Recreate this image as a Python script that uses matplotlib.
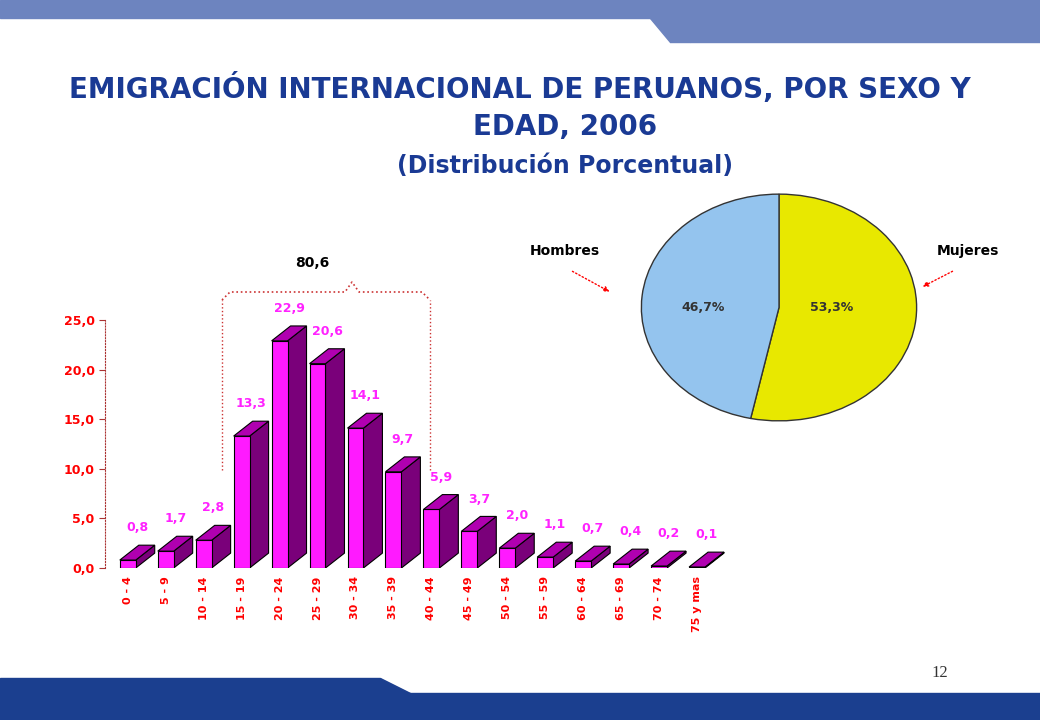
import matplotlib
matplotlib.use("Agg")
import matplotlib.pyplot as plt
from matplotlib.patches import Polygon, Rectangle

categories = ["0 - 4","5 - 9","10 - 14","15 - 19","20 - 24","25 - 29","30 - 34","35 - 39",
              "40 - 44","45 - 49","50 - 54","55 - 59","60 - 64","65 - 69","70 - 74","75 y mas"]
values = [0.8,1.7,2.8,13.3,22.9,20.6,14.1,9.7,5.9,3.7,2.0,1.1,0.7,0.4,0.2,0.1]
value_labels = ["0,8","1,7","2,8","13,3","22,9","20,6","14,1","9,7","5,9","3,7","2,0","1,1","0,7","0,4","0,2","0,1"]
yticks = [0,5,10,15,20,25]
ytick_labels = ["0,0","5,0","10,0","15,0","20,0","25,0"]
pie_labels = ["Mujeres","Hombres"]
pie_values = [53.3,46.7]
pie_text = ["53,3%","46,7%"]
bracket_total = "80,6"

W, H = 1040, 720
fig = plt.figure(figsize=(10.4,7.2), dpi=100)
fig.patch.set_facecolor("white")

def fr(x0,y0,x1,y1,c):
    fig.patches.append(Rectangle((x0/W,1-y1/H),(x1-x0)/W,(y1-y0)/H,transform=fig.transFigure,color=c,zorder=0))
fr(0,0,1040,18,"#6d84bf")
fr(690,0,1040,42,"#6d84bf")
fig.patches.append(Polygon([(650/W,1-18/H),(690/W,1-18/H),(690/W,1-42/H),(670/W,1-42/H)],closed=True,transform=fig.transFigure,color="#6d84bf"))
fr(0,693,1040,720,"#1b3f8f")
fr(0,678,380,693,"#1b3f8f")
fig.patches.append(Polygon([(380/W,1-678/H),(380/W,1-693/H),(410/W,1-693/H)],closed=True,transform=fig.transFigure,color="#1b3f8f"))

navy = "#1a3a94"
fig.text(520/W,1-88/H,"EMIGRACIÓN INTERNACIONAL DE PERUANOS, POR SEXO Y",ha="center",va="center",fontsize=20,fontweight="bold",color=navy)
fig.text(565/W,1-127/H,"EDAD, 2006",ha="center",va="center",fontsize=20,fontweight="bold",color=navy)
fig.text(565/W,1-166/H,"(Distribución Porcentual)",ha="center",va="center",fontsize=17,fontweight="bold",color=navy)
fig.text(940/W,1-673/H,"12",ha="center",va="center",fontsize=12,color="#333333",family="Liberation Serif")

ax = fig.add_axes([105/W,1-568/H,(735-105)/W,(568-320)/H])
ax.set_xlim(-0.6,16.0)
ax.set_ylim(0,25)
ax.patch.set_alpha(0)
for s in ["top","right","bottom"]:
    ax.spines[s].set_visible(False)
ax.spines["left"].set_color("#aa3333")
ax.spines["left"].set_linestyle(":")
ax.set_yticks(yticks)
ax.set_yticklabels(ytick_labels,color="red",fontsize=9,fontweight="bold")
ax.tick_params(axis="y",colors="#aa3333",length=4,labelcolor="red")
ax.set_xticks(range(len(categories)))
ax.set_xticklabels(categories,rotation=90,color="red",fontsize=8,fontweight="bold",va="top")
ax.tick_params(axis="x",length=0,pad=6)
bw, dx, dy = 0.42, 0.5, 1.5
for i,v in enumerate(values):
    x0 = i - 0.21
    ax.bar(x0, v, width=bw, align="edge", color="#ff1aff", edgecolor="black", linewidth=0.8, zorder=3)
    ax.add_patch(Polygon([(x0,v),(x0+bw,v),(x0+bw+dx,v+dy),(x0+dx,v+dy)],closed=True,fc="#b000b0",ec="black",lw=0.8,zorder=3))
    ax.add_patch(Polygon([(x0+bw,0),(x0+bw+dx,dy),(x0+bw+dx,v+dy),(x0+bw,v)],closed=True,fc="#7a007a",ec="black",lw=0.8,zorder=2))
    ax.text(i+0.25, v+dy+1.1, value_labels[i], ha="center", va="bottom", color="#ff22ff", fontsize=9, fontweight="bold", clip_on=False)

bc = "#cc3333"
fig.lines.append(plt.Line2D([222/W,222/W],[1-470/H,1-300/H],transform=fig.transFigure,color=bc,ls=":",lw=1))
fig.lines.append(plt.Line2D([430/W,430/W],[1-470/H,1-300/H],transform=fig.transFigure,color=bc,ls=":",lw=1))
fig.lines.append(plt.Line2D([222/W,230/W,345/W,352/W,359/W,422/W,430/W],
    [1-300/H,1-292/H,1-292/H,1-282/H,1-292/H,1-292/H,1-300/H],transform=fig.transFigure,color=bc,ls=":",lw=1.2))
fig.text(312/W,1-263/H,bracket_total,ha="center",va="center",fontsize=10,fontweight="bold",color="black")

pax = fig.add_axes([640/W,1-422/H,(918-640)/W,(422-193)/H])
pax.pie(pie_values,colors=["#e8e800","#94c4ee"],startangle=90,counterclock=False,
        wedgeprops=dict(edgecolor="#333333",linewidth=1))
pax.set_aspect("auto")
pax.set_xlim(-1.01,1.01)
pax.set_ylim(-1.01,1.01)
pax.text(0.38,0.0,pie_text[0],ha="center",va="center",fontsize=9,fontweight="bold",color="#333333")
pax.text(-0.55,0.0,pie_text[1],ha="center",va="center",fontsize=9,fontweight="bold",color="#333333")
fig.text(968/W,1-251/H,pie_labels[0],ha="center",va="center",fontsize=10,fontweight="bold")
fig.text(565/W,1-251/H,pie_labels[1],ha="center",va="center",fontsize=10,fontweight="bold")
fig.patches.append(matplotlib.patches.FancyArrowPatch((955/W,1-270/H),(920/W,1-288/H),transform=fig.transFigure,
    arrowstyle="-|>",mutation_scale=8,color="red",ls=":"))
fig.patches.append(matplotlib.patches.FancyArrowPatch((570/W,1-270/H),(612/W,1-293/H),transform=fig.transFigure,
    arrowstyle="-|>",mutation_scale=8,color="red",ls=":"))

fig.savefig("out.png",dpi=100,facecolor="white")
